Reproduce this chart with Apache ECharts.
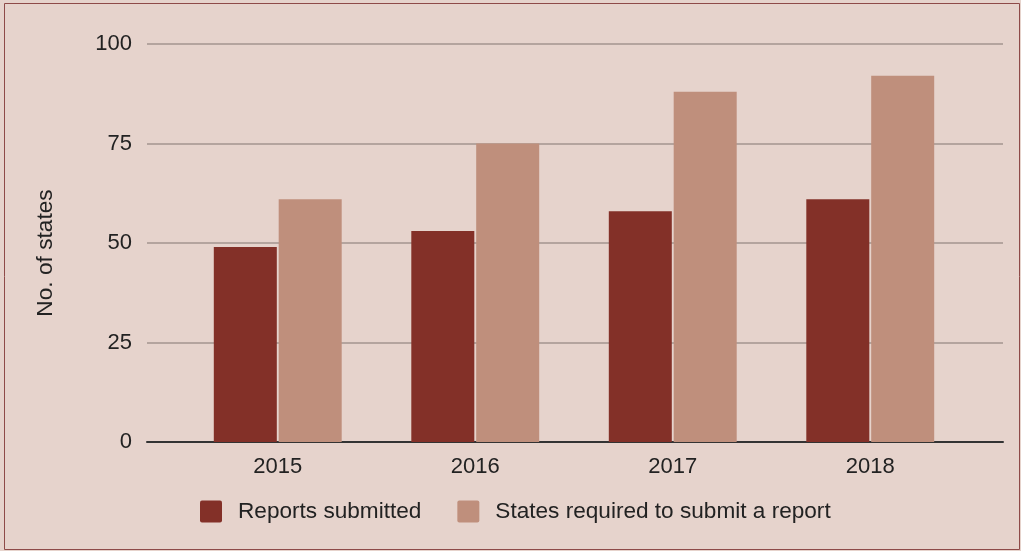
<!DOCTYPE html>
<html>
<head>
<meta charset="utf-8">
<script src="https://cdn.jsdelivr.net/npm/echarts@6/dist/echarts.min.js"></script>
<style>
  html, body { margin: 0; padding: 0; background: #e6d3cc; }
  #main { width: 1021px; height: 551px; }
</style>
</head>
<body>
<div id="main"></div>
<script>
var years = ['2015', '2016', '2017', '2018'];
var submitted = [49, 53, 58, 61];
var required = [61, 75, 88, 92];
var yTicks = [0, 25, 50, 75, 100];

var font = "'Liberation Sans', Arial, sans-serif";

var myChart = echarts.init(document.getElementById('main'));
var option = {
    backgroundColor: '#e6d3cc',
    color: ['#833028', '#bf8f7c'],
    textStyle: { fontFamily: font },
    graphic: [{
        type: 'rect',
        shape: { x: 4.5, y: 3.5, width: 1015, height: 546 },
        style: { fill: 'none', stroke: '#8e4a48', lineWidth: 1 },
        silent: true
    }, {
        // y轴标题
        type: 'text',
        x: 46,
        y: 253,
        rotation: Math.PI / 2,
        style: {
            text: 'No. of states',
            fontSize: 22.7,
            fontFamily: font,
            fill: '#222',
            align: 'center',
            verticalAlign: 'middle'
        },
        silent: true
    }],
    legend: {
        data: ['Reports submitted', 'States required to submit a report'],
        left: 200,
        top: 500,
        padding: 0,
        itemWidth: 22,
        itemHeight: 22,
        itemGap: 36,
        icon: 'path://M2,0 L20,0 Q22,0 22,2 L22,20 Q22,22 20,22 L2,22 Q0,22 0,20 L0,2 Q0,0 2,0 Z',
        textStyle: { fontSize: 22.6, color: '#222', fontFamily: font, padding: [0, 0, 0, 11] }
    },
    grid: [
        // 网格线和坐标轴
        { left: 147, right: 18, top: 44, bottom: 109 },
        // 柱状图区域
        { left: 179, right: 52, top: 44, bottom: 109 }
    ],
    xAxis: [{
        type: 'value',
        gridIndex: 0,
        min: 0,
        max: 1,
        axisLine: { show: true, onZero: false, lineStyle: { color: '#333', width: 2 } },
        axisTick: { show: false },
        axisLabel: { show: false },
        splitLine: { show: false }
    }, {
        type: 'category',
        gridIndex: 1,
        data: years,
        axisLine: { show: false },
        axisTick: { show: false },
        axisLabel: { fontSize: 22, color: '#222', margin: 14, fontFamily: font }
    }],
    yAxis: [{
        type: 'value',
        gridIndex: 0,
        min: yTicks[0],
        max: yTicks[yTicks.length - 1],
        interval: yTicks[1] - yTicks[0],
        axisLine: { show: false },
        axisTick: { show: false },
        axisLabel: { fontSize: 22, color: '#222', margin: 15, fontFamily: font },
        splitLine: { lineStyle: { color: '#b4a49e', width: 2 } }
    }, {
        type: 'value',
        gridIndex: 1,
        min: 0,
        max: 100,
        show: false
    }],
    series: [{
        name: 'Reports submitted',
        type: 'bar',
        xAxisIndex: 1,
        yAxisIndex: 1,
        barWidth: 63,
        barGap: '3%',
        data: submitted
    }, {
        name: 'States required to submit a report',
        type: 'bar',
        xAxisIndex: 1,
        yAxisIndex: 1,
        barWidth: 63,
        barGap: '3%',
        data: required
    }]
};
myChart.setOption(option);
</script>
</body>
</html>
